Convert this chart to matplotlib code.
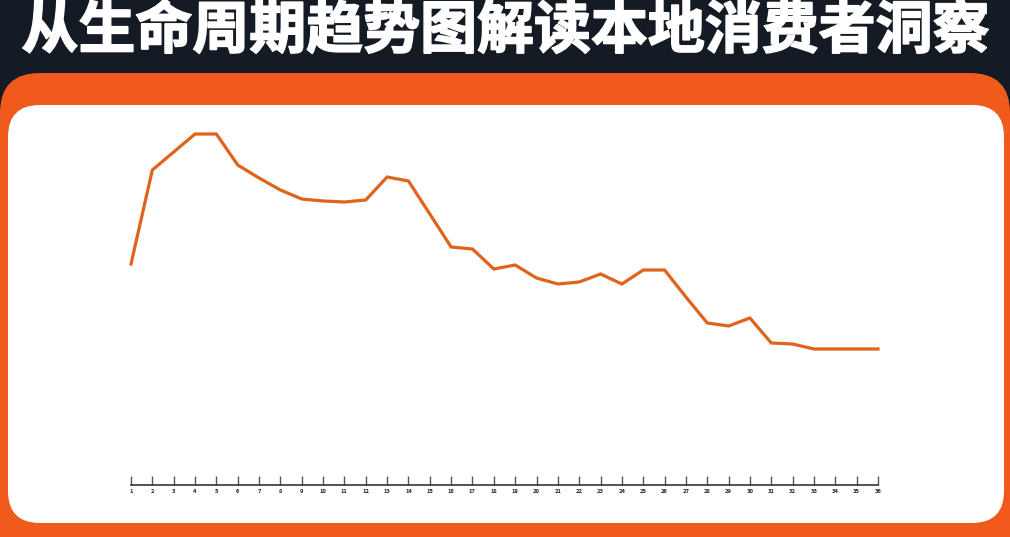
import matplotlib
matplotlib.use("Agg")
import matplotlib.pyplot as plt
import matplotlib.patheffects as pe
from matplotlib.patches import FancyBboxPatch

plt.rcParams['font.family'] = ['Noto Sans CJK SC', 'DejaVu Sans']

# data (height above baseline, arbitrary units)
periods = list(range(1, 37))
trend = [221, 315, 333, 351, 351, 320, 307, 295, 286, 284, 283, 285,
         308, 304, 271, 238, 236, 216, 220, 207, 201, 203, 211, 201,
         215, 215, 188, 162, 159, 167, 142, 141, 136, 136, 136, 136]
tick_labels = [str(p) for p in periods]
title = "从生命周期趋势图解读本地消费者洞察"

NAVY = "#151b25"
ORANGE = "#f15a1d"
LINE = "#e0621b"

W, H = 1010, 537
fig = plt.figure(figsize=(W / 100, H / 100), dpi=100)
fig.patch.set_facecolor(NAVY)

# background layer in pixel coordinates
bg = fig.add_axes([0, 0, 1, 1])
bg.set_xlim(0, W)
bg.set_ylim(H, 0)
bg.axis("off")
bg.add_patch(FancyBboxPatch((0, 73), W, 600, boxstyle="round,pad=0,rounding_size=40",
                            facecolor=ORANGE, edgecolor="none"))
bg.add_patch(FancyBboxPatch((8, 105), 996, 418, boxstyle="round,pad=0,rounding_size=32",
                            facecolor="white", edgecolor="none"))
bg.text(W / 2 + 1, 31, title, color="white", fontsize=41, fontweight="heavy",
        ha="center", va="center",
        path_effects=[pe.withStroke(linewidth=1.2, foreground="white")])

# chart axes
left, right = 131 / W, 878 / W
bottom, top = (H - 485) / H, (H - 105) / H
ax = fig.add_axes([left, bottom, right - left, top - bottom])
ax.set_facecolor("none")
ax.plot(periods, trend, color=LINE, linewidth=2.3, solid_joinstyle="miter", clip_on=False)
ax.set_xlim(1, 36)
ax.set_ylim(0, 380)

for side in ["top", "right", "left"]:
    ax.spines[side].set_visible(False)
ax.spines["bottom"].set_color("#333333")
ax.spines["bottom"].set_linewidth(1.2)
ax.set_yticks([])
ax.set_xticks(periods)
ax.set_xticklabels(tick_labels, fontsize=4.2, fontweight="bold", color="#222222")
ax.tick_params(axis="x", direction="in", length=6.5, width=1, color="#555555", pad=3)

fig.savefig("out.png", dpi=100, facecolor=NAVY)
